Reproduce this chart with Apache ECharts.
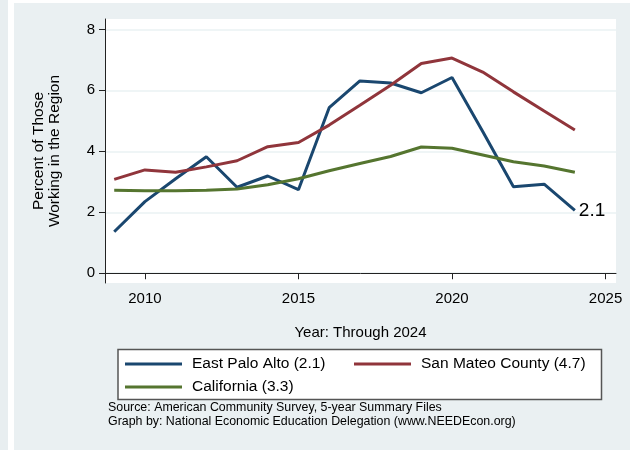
<!DOCTYPE html>
<html><head><meta charset="utf-8">
<script src="https://cdn.jsdelivr.net/npm/echarts@6/dist/echarts.min.js"></script>
<style>html,body{margin:0;padding:0;background:#fff}#c{width:630px;height:450px}</style>
</head><body><div id="c"></div>
<script>
const years = [2009,2010,2011,2012,2013,2014,2015,2016,2017,2018,2019,2020,2021,2022,2023,2024];
const eastPaloAlto = [1.36,2.35,3.10,3.82,2.82,3.19,2.74,5.43,6.31,6.24,5.92,6.42,4.65,2.84,2.92,2.06];
const sanMateo =     [3.08,3.39,3.31,3.49,3.69,4.15,4.29,4.86,5.51,6.17,6.88,7.06,6.60,5.95,5.32,4.70];
const california =   [2.72,2.71,2.71,2.72,2.76,2.90,3.10,3.36,3.60,3.83,4.14,4.10,3.88,3.66,3.52,3.31];
const xTicks = [2010,2015,2020,2025];
const yTicks = [0,2,4,6,8];
const seriesNames = ['East Palo Alto (2.1)','San Mateo County (4.7)','California (3.3)'];
const colors = ['#1a476f','#90353b','#55752f'];
const FONT = "'Liberation Sans', Arial, Helvetica, sans-serif";

const chart = echarts.init(document.getElementById('c'), null, {renderer:'canvas'});
const pairs = v => years.map((y,i)=>[y, v[i]]);
function lineSeries(name, vals, color, extra){
  return Object.assign({
    name, type:'line', data: pairs(vals), showSymbol:false, symbol:'none',
    lineStyle:{color, width:3}, itemStyle:{color}, animation:false
  }, extra||{});
}
const legendBase = {
  icon:'rect', itemWidth:57, itemHeight:3, itemGap:0, selectedMode:false, padding:0,
  textStyle:{fontFamily:FONT, fontSize:15.5, color:'#000', padding:[0,0,0,5], lineHeight:18}
};
chart.setOption({
  backgroundColor:'#eaf0f2',
  animation:false,
  grid:{left:105, right:14, top:19, bottom:167, show:true, backgroundColor:'#ffffff', borderWidth:0},
  xAxis:{
    type:'value', min:2008.7, max:2025.34,
    name:'Year: Through 2024', nameLocation:'middle', nameGap:42,
    nameTextStyle:{fontFamily:FONT, fontSize:15, color:'#000'},
    axisLine:{show:true, lineStyle:{color:'#222', width:1}},
    axisTick:{show:true, customValues:xTicks, length:6, lineStyle:{color:'#222'}},
    axisLabel:{customValues:xTicks, formatter:v=>String(v), fontFamily:FONT, fontSize:15, color:'#000', margin:8},
    splitLine:{show:false}
  },
  yAxis:{
    type:'value', min:-0.32, max:8.34,
    name:'Percent of Those\nWorking in the Region', nameLocation:'middle', nameGap:42, nameRotate:90,
    nameTextStyle:{fontFamily:FONT, fontSize:15.5, color:'#000', lineHeight:16},
    axisLine:{show:true, lineStyle:{color:'#222', width:1}},
    axisTick:{show:true, customValues:yTicks, length:6, lineStyle:{color:'#222'}},
    axisLabel:{customValues:yTicks, formatter:v=>String(v), fontFamily:FONT, fontSize:15, color:'#000', margin:10},
    splitLine:{show:true, lineStyle:{color:'#eaf2f3', width:1.5}}
  },
  legend:[
    Object.assign({left:125, top:355, data:[seriesNames[0]]}, legendBase),
    Object.assign({left:354, top:355, data:[seriesNames[1]]}, legendBase),
    Object.assign({left:125, top:378, data:[seriesNames[2]]}, legendBase)
  ],
  graphic:{elements:[
    {type:'rect', shape:{x:0,y:0,width:8,height:450}, style:{fill:'#e8eef0'}, silent:true},
    {type:'rect', shape:{x:8,y:0,width:6,height:450}, style:{fill:'#ffffff'}, silent:true},
    {type:'rect', shape:{x:14,y:0,width:616,height:3}, style:{fill:'#ffffff'}, silent:true},
    {type:'rect', shape:{x:118,y:349.5,width:483.5,height:50}, style:{fill:'#ffffff', stroke:'#555', lineWidth:1.5}, silent:true},
    {type:'text', left:108, top:401, silent:true,
     style:{text:'Source: American Community Survey, 5-year Summary Files\nGraph by: National Economic Education Delegation (www.NEEDEcon.org)',
            font:"12.4px 'Liberation Sans', Arial, sans-serif", fill:'#000', lineHeight:13.5}}
  ]},
  series:[
    lineSeries(seriesNames[0], eastPaloAlto, colors[0], {
      endLabel:{show:true, formatter:p=>p.value[1].toFixed(1), fontFamily:FONT, fontSize:19, color:'#000', distance:4}
    }),
    lineSeries(seriesNames[1], sanMateo, colors[1]),
    lineSeries(seriesNames[2], california, colors[2])
  ]
});
</script></body></html>
